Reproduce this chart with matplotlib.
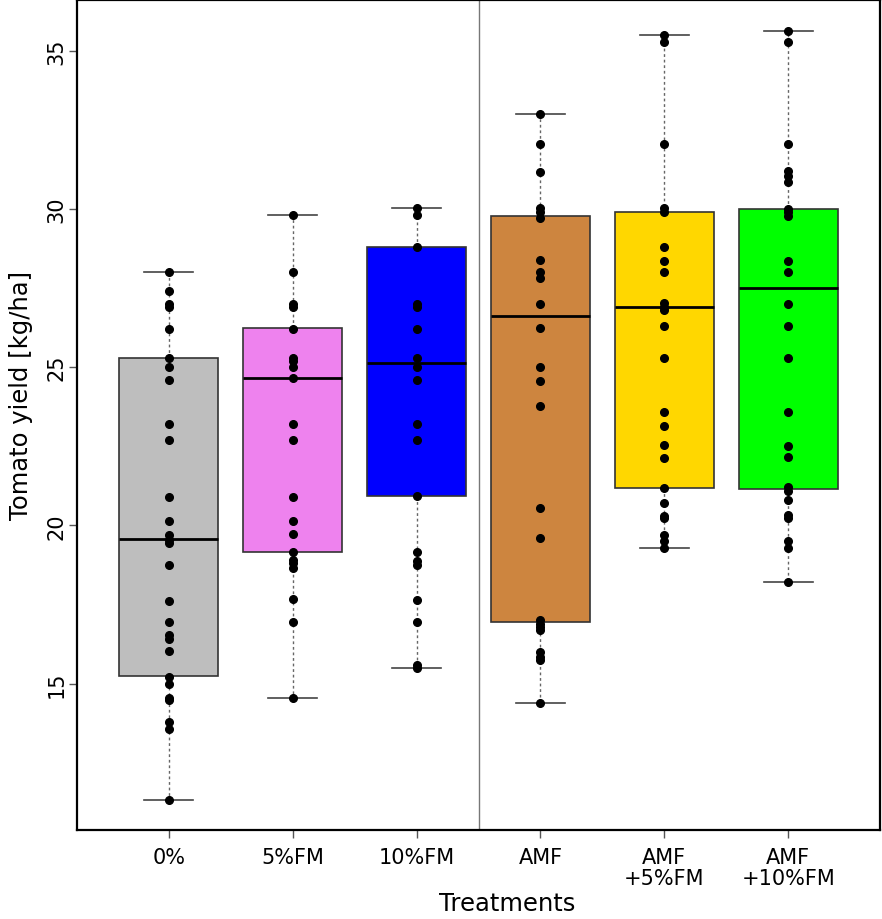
import matplotlib
matplotlib.use('Agg')
import matplotlib.pyplot as plt
import numpy as np

# Treatment groups, box colours and the points.

labels = ['0%', '5%FM', '10%FM', 'AMF', 'AMF\n+5%FM', 'AMF\n+10%FM']
colors = ['#BEBEBE', '#EE82EE', '#0000FF', '#CD853F', '#FFD700', '#00FF00']

y_0 = [28.0, 27.4, 27.0, 26.9, 26.2, 25.3, 25.0, 24.6, 23.2, 22.7, 20.9,
       20.15, 19.7, 19.55, 19.45, 18.75, 17.6, 16.95, 16.55, 16.4, 16.05,
       15.22, 15.0, 14.56, 14.48, 13.78, 13.57, 11.34]
y_5fm = [29.8, 28.0, 27.0, 26.9, 26.2, 25.3, 25.2, 25.0, 24.65, 23.2, 22.7,
         20.9, 20.15, 19.74, 19.16, 18.9, 18.8, 18.66, 17.67, 16.95, 14.56]
y_10fm = [30.04, 29.8, 28.8, 27.0, 26.9, 26.2, 25.3, 25.0, 24.6, 23.2, 22.7,
          20.93, 19.16, 18.88, 18.76, 17.64, 16.95, 15.6, 15.5]
y_amf = [33.0, 32.04, 31.17, 30.04, 29.9, 29.71, 28.38, 28.02, 27.82, 27.0,
         26.23, 25.02, 24.57, 23.76, 20.54, 19.62, 17.0, 16.9, 16.8, 16.7,
         16.0, 15.86, 15.76, 14.4]
y_amf5 = [35.5, 35.27, 32.04, 30.04, 29.9, 28.81, 28.34, 28.0, 27.02, 26.91,
          26.81, 26.29, 25.29, 23.59, 23.15, 22.53, 22.13, 21.19, 20.72,
          20.31, 20.23, 19.71, 19.5, 19.29]
y_amf10 = [35.61, 35.27, 32.05, 31.19, 31.03, 30.86, 30.0, 29.9, 29.79,
           28.34, 28.0, 27.0, 26.29, 25.29, 23.59, 22.51, 22.17, 21.2, 21.1,
           20.79, 20.33, 20.23, 19.5, 19.29, 18.23]
groups = [y_0, y_5fm, y_10fm, y_amf, y_amf5, y_amf10]

# Box statistics as drawn (whisker ends, quartiles, median)
whislo = [11.34, 14.56, 15.5, 14.4, 19.29, 18.23]
q1 = [15.23, 19.16, 20.93, 16.94, 21.19, 21.14]
med = [19.57, 24.65, 25.13, 26.61, 26.91, 27.51]
q3 = [25.3, 26.23, 28.8, 29.79, 29.89, 30.0]
whishi = [28.0, 29.8, 30.04, 33.0, 35.5, 35.61]

stats = []
for i in range(len(labels)):
    stats.append(dict(whislo=whislo[i], q1=q1[i], med=med[i], q3=q3[i],
                      whishi=whishi[i], fliers=[]))

fig = plt.figure(figsize=(8.82, 9.2), dpi=100)
ax = fig.add_axes([77 / 882, 89 / 920, 803 / 882, 830 / 920])

pos = np.arange(1, len(labels) + 1)
bp = ax.bxp(stats, positions=pos, widths=0.8, capwidths=0.4,
            patch_artist=True, showfliers=False,
            boxprops=dict(edgecolor='#333333', linewidth=1.2),
            medianprops=dict(color='black', linewidth=2),
            whiskerprops=dict(color='#666666', linewidth=1,
                              linestyle=(0, (2, 2))),
            capprops=dict(color='#444444', linewidth=1.2))
for patch, c in zip(bp['boxes'], colors):
    patch.set_facecolor(c)

# the raw observations on top
for i, g in enumerate(groups):
    ax.plot(np.full(len(g), pos[i]), g, 'o', color='black', ms=5.5,
            zorder=5)

# separator between the plain and AMF treatments
ax.axvline(3.5, color='#777777', linewidth=1)

ax.set_xlim(0.26, 6.74)
ax.set_ylim(10.38, 36.6)
ax.set_yticks([15, 20, 25, 30, 35])
ax.set_xticks(pos)
ax.set_xticklabels(labels, fontsize=15, linespacing=1.1)
for t in ax.get_yticklabels():
    t.set_rotation(90)
    t.set_verticalalignment('center')
    t.set_fontsize(15)
ax.tick_params(length=6, width=1, color='#555555')
ax.tick_params(axis='x', pad=6)
ax.tick_params(axis='y', pad=1.5)

ax.set_xlabel('Treatments', fontsize=17.5, labelpad=2)
ax.xaxis.label.set_x(0.5355)
ax.set_ylabel('Tomato yield [kg/ha]', fontsize=17.5, labelpad=10)
ax.yaxis.label.set_y(0.525)

for s in ax.spines.values():
    s.set_linewidth(1.6)
    s.set_color('black')

fig.savefig('out.png', dpi=100)
